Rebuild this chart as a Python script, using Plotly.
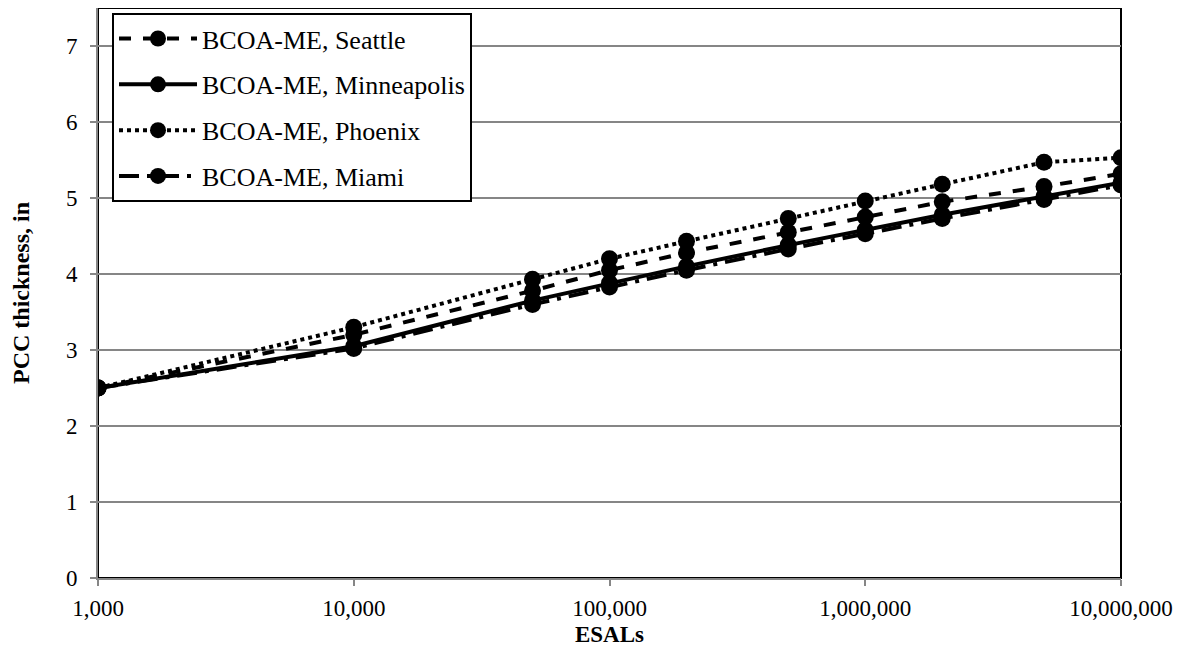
import plotly.graph_objects as go

esals = [1000, 10000, 50000, 100000, 200000, 500000, 1000000, 2000000, 5000000, 10000000]
seattle = [2.5, 3.2, 3.78, 4.05, 4.28, 4.55, 4.75, 4.95, 5.15, 5.32]
minneapolis = [2.5, 3.05, 3.65, 3.88, 4.1, 4.38, 4.58, 4.78, 5.02, 5.2]
phoenix = [2.5, 3.3, 3.93, 4.2, 4.43, 4.73, 4.96, 5.18, 5.47, 5.53]
miami = [2.5, 3.02, 3.6, 3.83, 4.05, 4.33, 4.53, 4.73, 4.98, 5.17]

names = ["BCOA-ME, Seattle", "BCOA-ME, Minneapolis", "BCOA-ME, Phoenix", "BCOA-ME, Miami"]
series = [seattle, minneapolis, phoenix, miami]
dashes = ["dash", "solid", "dot", "longdashdot"]

fig = go.Figure()
for i, (n, s, d) in enumerate(zip(names, series, dashes)):
    fig.add_trace(go.Scatter(
        x=esals, y=s, name=n, mode="lines+markers", legendgroup=f"g{i}",
        line=dict(color="black", width=4, dash=d),
        marker=dict(color="black", size=17, symbol="circle"),
    ))

ff = "Liberation Serif"
fig.update_layout(
    width=1186, height=658,
    margin=dict(l=90, r=73, t=0, b=88),
    paper_bgcolor="white", plot_bgcolor="white",
    font=dict(family=ff, size=23, color="black"),
    showlegend=True,
    legend=dict(
        x=0.0137, y=0.991, xanchor="left", yanchor="top",
        bordercolor="black", borderwidth=2, bgcolor="white",
        font=dict(family=ff, size=26, color="black"),
        tracegroupgap=9, itemwidth=78,
    ),
    xaxis=dict(
        type="log", range=[3, 7],
        tickvals=[1000, 10000, 100000, 1000000, 10000000],
        ticktext=["1,000", "10,000", "100,000", "1,000,000", "10,000,000"],
        showgrid=False, showline=True, linecolor="#868686", linewidth=2,
        ticks="outside", ticklen=6, tickcolor="#868686", tickwidth=2,
        tickfont=dict(family=ff, size=23), ticklabelstandoff=2,
        title=dict(text="<b>ESALs</b>", font=dict(size=23, family=ff), standoff=6),
        zeroline=False,
    ),
    yaxis=dict(
        range=[0, 7.5], tickvals=[0, 1, 2, 3, 4, 5, 6, 7],
        showgrid=True, gridcolor="#868686", gridwidth=1.5,
        showline=True, linecolor="#868686", linewidth=2,
        ticks="outside", ticklen=6, tickcolor="#868686", tickwidth=2,
        tickfont=dict(family=ff, size=23), ticklabelstandoff=8,
        title=dict(text="<b>PCC thickness, in</b>", font=dict(size=24, family=ff), standoff=34),
        zeroline=False,
    ),
    shapes=[dict(type="rect", xref="paper", yref="paper", x0=0, y0=0, x1=1, y1=1,
                 line=dict(color="black", width=2), layer="below")],
)

fig.write_html("out.html")
